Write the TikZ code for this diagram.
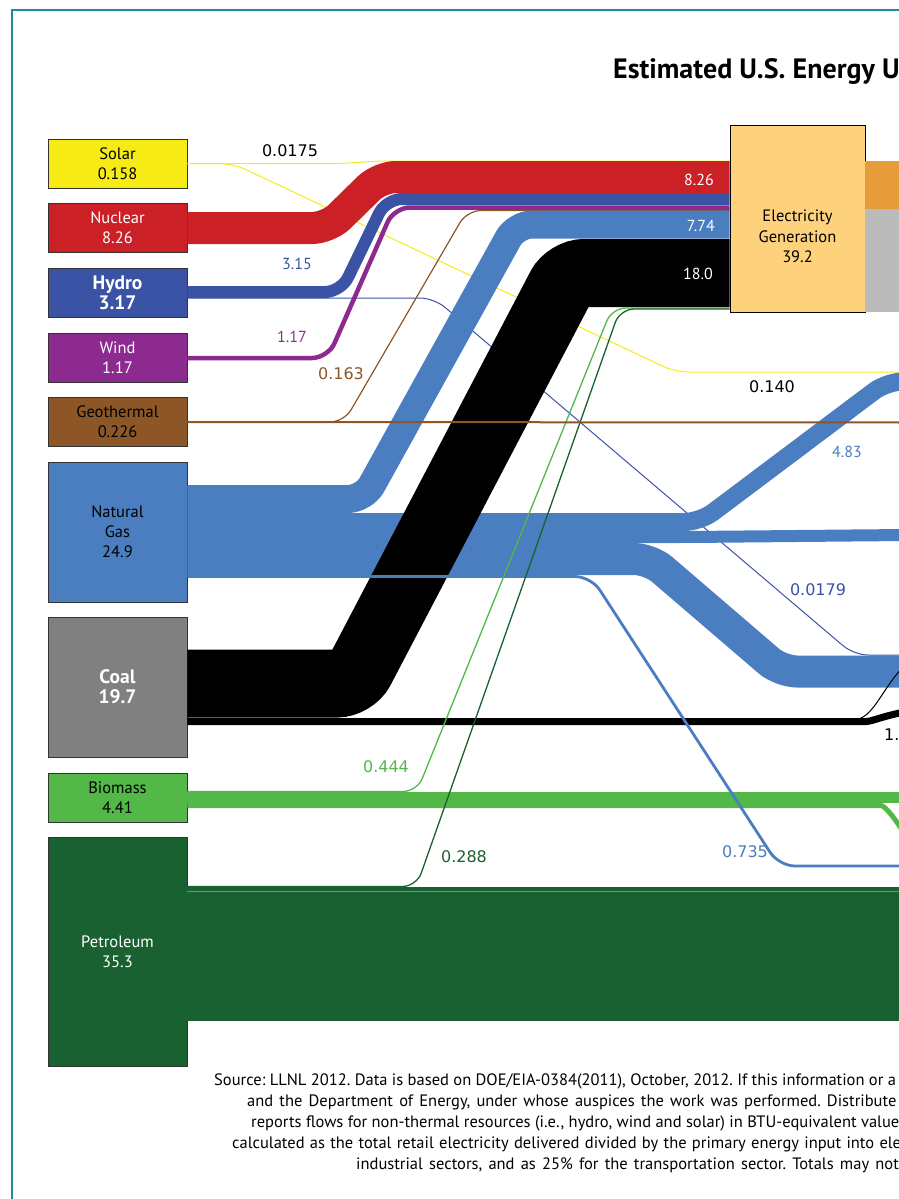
\documentclass[tikz,border=0pt]{standalone}
\usepackage{fontspec}
\setmainfont{PT Sans}
\newfontfamily\dv{DejaVu Sans}
\usepackage{tikz}
\definecolor{framec}{HTML}{1E8A9C}
\definecolor{solarc}{HTML}{F6EB14}
\definecolor{nuclc}{HTML}{CC2027}
\definecolor{hydroc}{HTML}{3A53A4}
\definecolor{windc}{HTML}{8D2A8F}
\definecolor{geoc}{HTML}{8C5627}
\definecolor{gasc}{HTML}{4A7EC0}
\definecolor{coalc}{HTML}{808080}
\definecolor{bioc}{HTML}{52B848}
\definecolor{petc}{HTML}{1A6132}
\definecolor{elecc}{HTML}{FED27C}
\definecolor{orangec}{HTML}{E69C38}
\definecolor{lostc}{HTML}{BBBBBB}
\frenchspacing

\begin{document}
\begin{tikzpicture}[x=1pt,y=-1pt,
    src/.style={draw=black!80,line width=0.8pt,minimum width=139pt,inner sep=0pt,align=center,font=\fontsize{16.5}{20}\selectfont},
    srcbold/.style={src,font=\bfseries\fontsize{19.5}{20}\selectfont},
    band/.style={line width=#1,rounded corners=16pt},
    wire/.style={line width=1pt,rounded corners=14pt},
    num/.style={inner sep=0pt,font=\dv\fontsize{16}{18}\selectfont},
    sm/.style={inner sep=0pt,font=\fontsize{16}{18}\selectfont},
    note/.style={anchor=base west,inner sep=0pt,font=\fontsize{16.5}{21}\selectfont}]
    \useasboundingbox (0,0) rectangle (899,1199);
    \draw[line width=2pt,framec] (12,10) rectangle (950,1250);

    \node[anchor=base west,inner sep=0pt,font=\bfseries\fontsize{28}{32}\selectfont] (title) at (613,78) {Estimated U.S. Energy U};

    \node[src,fill=solarc,minimum height=49pt] (solar) at (117.5,163.5) {Solar\\0.158};
    \node[src,fill=nuclc,minimum height=49pt,text=white] (nuclear) at (117.5,227.5) {Nuclear\\8.26};
    \node[srcbold,fill=hydroc,minimum height=49pt,text=white] (hydro) at (117.5,292.5) {Hydro\\3.17};
    \node[src,fill=windc,minimum height=49pt,text=white] (wind) at (117.5,357.5) {Wind\\1.17};
    \node[src,fill=geoc,minimum height=49pt] (geo) at (117.5,421.5) {Geothermal\\0.226};
    \node[src,fill=gasc,minimum height=140pt] (gas) at (117.5,532) {Natural\\Gas\\24.9};
    \node[srcbold,fill=coalc,minimum height=140pt,text=white] (coal) at (117.5,687) {Coal\\19.7};
    \node[src,fill=bioc,minimum height=49pt] (biomass) at (117.5,797.5) {Biomass\\4.41};
    \node[src,fill=petc,minimum height=229pt,text=white] (petrol) at (117.5,951.5) {Petroleum\\35.3};

    \node[draw=black,line width=0.8pt,fill=elecc,minimum width=135pt,minimum height=187pt,inner sep=0pt] (elec) at (797.5,218.5) {};
    \node[align=center,inner sep=0pt,font=\fontsize{16.5}{20.5}\selectfont] (eleclab) at (797.5,236.5) {Electricity\\Generation\\39.2};

    \coordinate (solarres) at (905,372);
    \coordinate (hydroind) at (905,655);
    \coordinate (georc) at (905,422.5);
    \coordinate (gasres) at (905,381.5);
    \coordinate (gascom) at (905,535);
    \coordinate (gasind) at (905,671.5);
    \coordinate (gastrans) at (905,866);
    \coordinate (coalind) at (905,712);
    \coordinate (coalres) at (905,665);
    \coordinate (bioa) at (905,797.5);
    \coordinate (biob) at (905,835);
    \coordinate (petra) at (905,954);
    \coordinate (petrb) at (905,891.5);
    \coordinate (elecres) at (905,185);
    \coordinate (eleclost) at (905,260.5);

    \draw[band=48pt,orangec] ([yshift=33.5pt]elec.east) -- (elecres);
    \draw[band=103pt,lostc] ([yshift=-42pt]elec.east) -- (eleclost);

    \draw[wire,solarc] (solar.east) -- (320,163.5) to[out=0,in=180] (400,161) -- ([yshift=57.5pt]elec.west);
    \draw[wire,solarc] (solar.east) -- (233,163.5) -- (675,372) -- (solarres);
    \draw[wire,hydroc] ([yshift=-5.5pt]hydro.east) -- (434,298) -- (854,655) -- (hydroind);

    \draw[band=18pt,gasc] ([yshift=10pt]gas.east) -- (700,522) -- (887,381.5) -- (gasres);
    \draw[band=12pt,gasc] ([yshift=-5pt]gas.east) -- (690,537) -- (gascom);
    \draw[band=32pt,gasc] ([yshift=-27pt]gas.east) -- (650,559) -- (781,671.5) -- (gasind);

    \draw[band=32pt,nuclc] ([yshift=-0.5pt]nuclear.east) -- (328,228) -- (380,177) -- ([yshift=41.5pt]elec.west);
    \draw[band=12pt,hydroc] ([yshift=0.5pt]hydro.east) -- (341,292) -- (386,199) -- ([yshift=19.5pt]elec.west);
    \draw[band=4.5pt,windc] ([yshift=-0.5pt]wind.east) -- (328,358) -- (394,207.5) -- ([yshift=11pt]elec.west);
    \draw[wire,line width=1.2pt,geoc] ([yshift=-0.5pt]geo.east) -- (344,422) -- (467,210.5) -- ([yshift=8pt]elec.west);

    \draw[band=28pt,gasc] ([yshift=33pt]gas.east) -- (364,499) -- (516,224.5) -- ([yshift=-6pt]elec.west);
    \draw[band=68pt,black] ([yshift=3.5pt]coal.east) -- (353,683.5) -- (568,273) -- ([yshift=-54.5pt]elec.west);
    \draw[band=7pt,black] ([yshift=-34.5pt]coal.east) -- (850,721.5) to[out=0,in=190] (coalind);
    \draw[wire,black] ([yshift=-32.5pt]coal.east) -- (840,719.5) to[out=0,in=225] (coalres);

    \draw[band=11pt,bioc] (biomass.east) -- (bioa);
    \draw[band=5pt,bioc] ([yshift=-8pt]biomass.east) -- (865,805.5) to[out=0,in=120] (biob);
    \draw[band=134pt,petc] ([yshift=-2.5pt]petrol.east) -- (petra);
    \draw[line width=0.6pt,petc!65!white] ([yshift=60pt]petrol.east) -- (petrb);

    \draw[band=2.8pt,gasc] ([yshift=-44.5pt]gas.east) -- (591,576.5) -- (779,866) -- (gastrans);
    \draw[wire,line width=1.3pt,bioc] ([yshift=6pt]biomass.east) -- (417,791.5) -- (612,308) -- ([yshift=-89.5pt]elec.west);
    \draw[wire,line width=1.3pt,petc] ([yshift=65pt]petrol.east) -- (416.5,886.5) -- (620,309) -- ([yshift=-90.5pt]elec.west);
    \draw[line width=2pt,geoc] ([yshift=-0.5pt]geo.east) -- (georc);

    \node[num] (l0175) at (290,151) {0.0175};
    \node[sm,text=white,anchor=east] (l826) at (714,180) {8.26};
    \node[sm,text=white,anchor=east] (l774) at (715,226) {7.74};
    \node[sm,text=white,anchor=east] (l180) at (713,274) {18.0};
    \node[sm,text=hydroc] (l315) at (297,264) {3.15};
    \node[sm,text=windc] (l117) at (292,337) {1.17};
    \node[num,text=geoc] (l0163) at (341,374) {0.163};
    \node[num] (l0140) at (772,387) {0.140};
    \node[sm,text=gasc] (l483) at (847,452) {4.83};
    \node[num,text=hydroc] (l0179) at (818,590) {0.0179};
    \node[num,text=gasc] (l0735) at (745,852) {0.735};
    \node[num,text=bioc] (l0444) at (386,767) {0.444};
    \node[num,text=petc] (l0288) at (464,857) {0.288};
    \node[num,anchor=west] (l16) at (884,735) {1.6};

    \node[note] (src1) at (214,1085) {Source: LLNL 2012. Data is based on DOE/EIA-0384(2011), October, 2012. If this information or a};
    \node[note] (src2) at (247,1106) {\spaceskip=6.2pt\relax and the Department of Energy, under whose auspices the work was performed. Distribute};
    \node[note] (src3) at (251,1127) {reports flows for non-thermal resources (i.e., hydro, wind and solar) in BTU-equivalent value};
    \node[note] (src4) at (232,1148) {\spaceskip=5.3pt\relax calculated as the total retail electricity delivered divided by the primary energy input into ele};
    \node[note] (src5) at (356,1169) {\spaceskip=6.2pt\relax industrial sectors, and as 25\% for the transportation sector. Totals may not};
\end{tikzpicture}
\end{document}
